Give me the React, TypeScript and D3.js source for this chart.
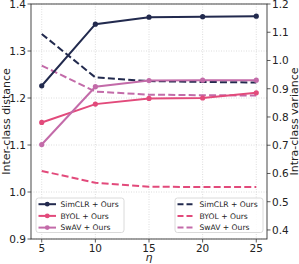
import { scaleLinear, line } from "d3";

const etas = [5, 10, 15, 20, 25];
const simclrInter = [1.226, 1.357, 1.372, 1.373, 1.374];
const byolInter = [1.148, 1.187, 1.199, 1.2, 1.211];
const swavInter = [1.101, 1.224, 1.237, 1.238, 1.238];
const simclrVar = [1.094, 0.94, 0.927, 0.924, 0.922];
const byolVar = [0.609, 0.567, 0.553, 0.552, 0.552];
const swavVar = [0.982, 0.89, 0.879, 0.877, 0.876];

const xTicks = [5, 10, 15, 20, 25];
const leftTicks = [0.9, 1.0, 1.1, 1.2, 1.3, 1.4];
const rightTicks = [0.4, 0.5, 0.6, 0.7, 0.8, 0.9, 1.0, 1.1, 1.2];
const methods = ["SimCLR + Ours", "BYOL + Ours", "SwAV + Ours"];

const colors = ["#222a4e", "#e24a7b", "#c36ba9"];
const font = "DejaVu Sans, sans-serif";

export default function App() {
  const width = 299;
  const height = 264;
  const left = 31;
  const right = 267;
  const top = 4;
  const bottom = 239;

  const x = scaleLinear().domain([4, 26]).range([left, right]);
  const yL = scaleLinear().domain([0.9, 1.4]).range([bottom, top]);
  const yR = scaleLinear().domain([0.368, 1.2]).range([bottom, top]);

  const inter = [simclrInter, byolInter, swavInter];
  const variance = [simclrVar, byolVar, swavVar];

  const pathL = line<number>()
    .x((_, i) => x(etas[i]))
    .y((d) => yL(d));
  const pathR = line<number>()
    .x((_, i) => x(etas[i]))
    .y((d) => yR(d));

  const legends = [
    { x0: 36, dashed: false },
    { x0: 175, dashed: true }
  ];

  return (
    <svg
      width={width}
      height={height}
      style={{ position: "absolute", left: 0, top: 0, background: "#fff" }}
      fontFamily={font}
    >
      {/* grid */}
      {xTicks.map((t) => (
        <line key={"gx" + t} x1={x(t)} x2={x(t)} y1={top} y2={bottom} stroke="#d4d4d4" strokeWidth="0.8" strokeDasharray="1,1.5" />
      ))}
      {leftTicks.map((t) => (
        <line key={"gy" + t} x1={left} x2={right} y1={yL(t)} y2={yL(t)} stroke="#d4d4d4" strokeWidth="0.8" strokeDasharray="1,1.5" />
      ))}

      {/* dashed lines (right axis) */}
      {variance.map((s, k) => (
        <path key={"v" + k} d={pathR(s) ?? ""} fill="none" stroke={colors[k]} strokeWidth="2" strokeDasharray="7,3.2" />
      ))}

      {/* solid lines (left axis) */}
      {inter.map((s, k) => (
        <g key={"s" + k}>
          <path d={pathL(s) ?? ""} fill="none" stroke={colors[k]} strokeWidth="2" />
          {s.map((d, i) => (
            <circle key={i} cx={x(etas[i])} cy={yL(d)} r="2.6" fill={colors[k]} />
          ))}
        </g>
      ))}

      {/* spines */}
      <rect x={left} y={top} width={right - left} height={bottom - top} fill="none" stroke="#333" strokeWidth="0.9" />

      {/* x axis */}
      {xTicks.map((t) => (
        <g key={"xt" + t}>
          <line x1={x(t)} x2={x(t)} y1={bottom} y2={bottom + 3.5} stroke="#333" strokeWidth="0.8" />
          <text x={x(t)} y={bottom + 13} textAnchor="middle" fontSize="10.5" fill="#222">
            {t}
          </text>
        </g>
      ))}
      <text x={(left + right) / 2} y={261} textAnchor="middle" fontSize="11" fontStyle="italic" fill="#222">
        η
      </text>

      {/* left axis */}
      {leftTicks.map((t) => (
        <g key={"lt" + t}>
          <line x1={left - 3.5} x2={left} y1={yL(t)} y2={yL(t)} stroke="#333" strokeWidth="0.8" />
          <text x={left - 5} y={yL(t) + 3.8} textAnchor="end" fontSize="10.5" fill="#222">
            {t.toFixed(1)}
          </text>
        </g>
      ))}
      <text transform={`translate(10,${(top + bottom) / 2}) rotate(-90)`} textAnchor="middle" fontSize="11" fill="#222">
        Inter-class distance
      </text>

      {/* right axis */}
      {rightTicks.map((t) => (
        <g key={"rt" + t}>
          <line x1={right} x2={right + 3.5} y1={yR(t)} y2={yR(t)} stroke="#333" strokeWidth="0.8" />
          <text x={right + 5} y={yR(t) + 3.8} textAnchor="start" fontSize="10.5" fill="#222">
            {t.toFixed(1)}
          </text>
        </g>
      ))}
      <text transform={`translate(297.5,${(top + bottom) / 2}) rotate(-90)`} textAnchor="middle" fontSize="11" fill="#222">
        Intra-class variance
      </text>

      {/* legends */}
      {legends.map((lg, j) => (
        <g key={"lg" + j}>
          <rect x={lg.x0} y={198} width={88} height={34.5} rx="2.5" fill="#fff" fillOpacity="0.85" stroke="#d0d0d0" strokeWidth="0.8" />
          {methods.map((m, k) => {
            const yy = 204.2 + k * 11.7;
            return (
              <g key={m}>
                <line
                  x1={lg.x0 + 2.5}
                  x2={lg.x0 + 20}
                  y1={yy}
                  y2={yy}
                  stroke={colors[k]}
                  strokeWidth="2"
                  strokeDasharray={lg.dashed ? "6,3" : undefined}
                />
                {!lg.dashed && <circle cx={lg.x0 + 11.25} cy={yy} r="2.4" fill={colors[k]} />}
                <text x={lg.x0 + 24.5} y={yy + 2.8} fontSize="7.6" fill="#222">
                  {m}
                </text>
              </g>
            );
          })}
        </g>
      ))}
    </svg>
  );
}
